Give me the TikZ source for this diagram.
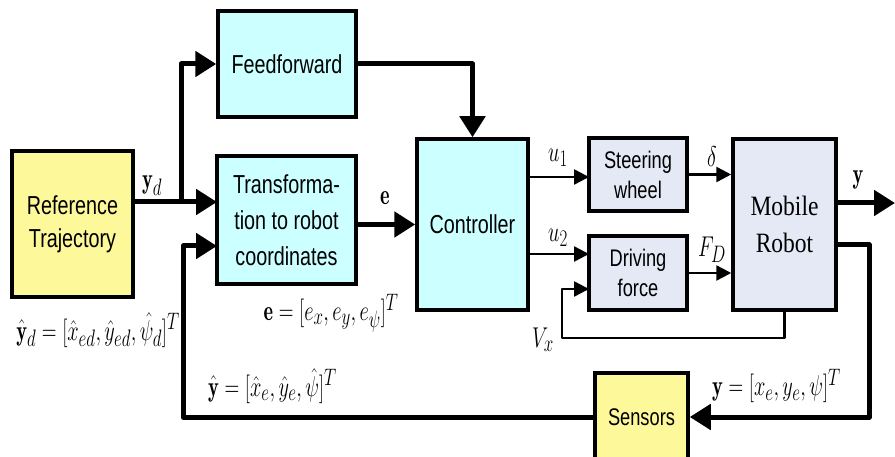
\documentclass[tikz,border=0pt]{standalone}
\usepackage{fontspec}
\newfontfamily\boxsf[FakeStretch=0.76]{Liberation Sans}
\newfontfamily\boxrm[FakeStretch=0.84]{Liberation Serif}
\usetikzlibrary{arrows.meta,calc}
\definecolor{ylw}{RGB}{253,248,154}
\definecolor{cyn}{RGB}{204,255,255}
\definecolor{gry}{RGB}{228,233,245}
\newcommand\ml[1]{\scalebox{0.82}[1.15]{\fontsize{24.88}{29}\selectfont$#1$}}
\begin{document}
\begin{tikzpicture}[x=1pt,y=-1pt,
  blk/.style={draw, line width=3.5pt, inner sep=0pt, align=center,
    font=\boxsf\fontsize{26}{33}\selectfont},
  thk/.style={line width=5pt, line join=round,
    -{Triangle[length=21pt,width=25pt]}},
  thn/.style={line width=2.5pt, line join=round,
    -{Triangle[length=15pt,width=15pt]}},
  lbl/.style={inner sep=0pt}]
\clip (0,0) rectangle (895,457);
\fill[white] (0,0) rectangle (895,457);
% boxes
\node[blk, fill=ylw, minimum width=121pt, minimum height=146pt] (ref) at (72.5,224) {Reference\\Trajectory};
\node[blk, fill=cyn, minimum width=138pt, minimum height=106pt] (ff) at (287,64) {Feedforward};
\node[blk, fill=cyn, minimum width=139pt, minimum height=128pt, font=\boxsf\fontsize{26}{36}\selectfont] (tr) at (286.5,220) {Transforma-\\tion to robot\\coordinates};
\node[blk, fill=cyn, minimum width=111pt, minimum height=171pt] (ct) at (472.5,224.5) {Controller};
\node[blk, fill=gry, minimum width=98pt, minimum height=73pt, font=\boxsf\fontsize{24}{30}\selectfont] (sw) at (638,174.5) {Steering\\wheel};
\node[blk, fill=gry, minimum width=98pt, minimum height=74pt, font=\boxsf\fontsize{24}{30}\selectfont] (df) at (638,273) {Driving\\force};
\node[blk, fill=gry, minimum width=103pt, minimum height=171pt, font=\boxrm\fontsize{28}{37}\selectfont] (mr) at (784.5,224.5) {Mobile\\Robot};
\node[blk, fill=ylw, minimum width=93pt, minimum height=88pt, font=\boxsf\fontsize{24}{30}\selectfont] (se) at (641.5,417) {Sensors};
% coordinates
\coordinate (yd) at (217,202);
\coordinate (br) at (181,202);
\coordinate (trin2) at (217,246);
\coordinate (fbl) at (183,246);
\coordinate (u1in) at (589,177);
\coordinate (u2in) at (589,254);
\coordinate (vxin) at (589,289);
\coordinate (vxc) at (562,338);
\coordinate (out) at (895,203);
\coordinate (fbr) at (869,245);
% connectors
\draw[thk] (yd -| ref.east) -- (yd);
\draw[thk] (br) |- (ff.west);
\draw[thk] (se.west) -| (fbl) -- (trin2);
\draw[thk] (tr.east |- ct.west) -- (ct.west);
\draw[thk] (ff.east) -| (ct.north);
\draw[thn] (u1in -| ct.east) -- (u1in);
\draw[thn] (u2in -| ct.east) -- (u2in);
\draw[thn] (sw.east) -- (sw.east -| mr.west);
\draw[thn] (df.east) -- (df.east -| mr.west);
\draw[thn] (mr.south) |- (vxc) |- (vxin);
\draw[thk] (out -| mr.east) -- (out);
\draw[thk] (fbr -| mr.east) -- (fbr) |- (se.east);
% labels
\node[lbl] (lyd) at (152,186) {\ml{\mathbf{y}_d}};
\node[lbl] (lydh) at (98,330) {\ml{\hat{\mathbf{y}}_d=[\hat{x}_{ed},\hat{y}_{ed},\hat{\psi}_d]^T}};
\node[lbl] (le) at (385,198) {\ml{\mathbf{e}}};
\node[lbl] (leq) at (331,313) {\ml{\mathbf{e}=[e_x,e_y,e_\psi]^T}};
\node[lbl] (lu1) at (558,158) {\ml{u_1}};
\node[lbl] (lu2) at (558,238) {\ml{u_2}};
\node[lbl] (ldl) at (712,157) {\ml{\delta}};
\node[lbl] (lfd) at (712,250) {\ml{F_D}};
\node[lbl] (lvx) at (543,340) {\ml{V_x}};
\node[lbl] (ly) at (858,180) {\ml{\mathbf{y}}};
\node[lbl, anchor=west] (lyh) at (208,386) {\ml{\hat{\mathbf{y}}=[\hat{x}_e,\hat{y}_e,\hat{\psi}]^T}};
\node[lbl, anchor=west] (lyeq) at (712,386) {\ml{\mathbf{y}=[x_e,y_e,\psi]^T}};
\end{tikzpicture}
\end{document}
